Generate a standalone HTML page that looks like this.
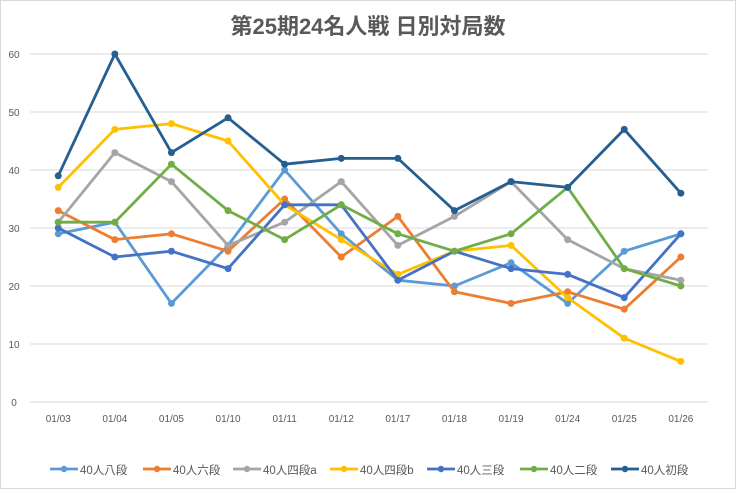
<!DOCTYPE html>
<html><head><meta charset="utf-8"><style>
body{margin:0;background:#fff}
svg{display:block;font-family:"Liberation Sans","Noto Sans CJK JP",sans-serif}
</style></head><body>
<svg id="c" width="736" height="489" viewBox="0 0 736 489" xmlns="http://www.w3.org/2000/svg">
<rect x="0.5" y="0.5" width="735" height="488" fill="#fff" stroke="#d9d9d9"/>
<text x="368" y="34" text-anchor="middle" font-size="22" font-weight="bold" fill="#595959">第25期24名人戦  日別対局数</text>
<g id="grid"></g><g id="series"></g><g id="leg"></g>
</svg>
<script>
const ns="http://www.w3.org/2000/svg";
function el(t,a,p,txt){const e=document.createElementNS(ns,t);for(const k in a)e.setAttribute(k,a[k]);if(txt!=null)e.textContent=txt;p.appendChild(e);return e;}
const g=document.getElementById('grid'),s=document.getElementById('series'),l=document.getElementById('leg');
const y0=402,u=5.8,x0=58.25,st=56.6;
for(let v=0;v<=60;v+=10){const y=y0-v*u;el('line',{x1:30,x2:708,y1:y,y2:y,stroke:'#d9d9d9','stroke-width':1},g);el('text',{x:14,y:y+4,'text-anchor':'middle','font-size':10,fill:'#595959'},g,v);}
const labs=['01/03','01/04','01/05','01/10','01/11','01/12','01/17','01/18','01/19','01/24','01/25','01/26'];
labs.forEach((t,i)=>el('text',{x:x0+i*st,y:422,'text-anchor':'middle','font-size':10,fill:'#595959'},g,t));
const S=[
['40人八段','#5B9BD5',[29,31,17,27,40,29,21,20,24,17,26,29]],
['40人六段','#ED7D31',[33,28,29,26,35,25,32,19,17,19,16,25]],
['40人四段a','#A5A5A5',[31,43,38,27,31,38,27,32,38,28,23,21]],
['40人四段b','#FFC000',[37,47,48,45,34,28,22,26,27,18,11,7]],
['40人三段','#4472C4',[30,25,26,23,34,34,21,26,23,22,18,29]],
['40人二段','#70AD47',[31,31,41,33,28,34,29,26,29,37,23,20]],
['40人初段','#255E91',[39,60,43,49,41,42,42,33,38,37,47,36]]];
const lx=[50,143,233,330,427,520,611];
S.forEach(([n,c,d],k)=>{
 el('polyline',{points:d.map((v,i)=>(x0+i*st)+','+(y0-v*u)).join(' '),fill:'none',stroke:c,'stroke-width':2.8,'stroke-linejoin':'round'},s);
 d.forEach((v,i)=>el('circle',{cx:x0+i*st,cy:y0-v*u,r:3.5,fill:c},s));
 const x=lx[k];
 el('line',{x1:x,x2:x+28,y1:469,y2:469,stroke:c,'stroke-width':2.8},l);
 el('circle',{cx:x+14,cy:469,r:3.2,fill:c},l);
 el('text',{x:x+30,y:474,'font-size':11.5,fill:'#595959'},l,n);
});
</script>
</body></html>
